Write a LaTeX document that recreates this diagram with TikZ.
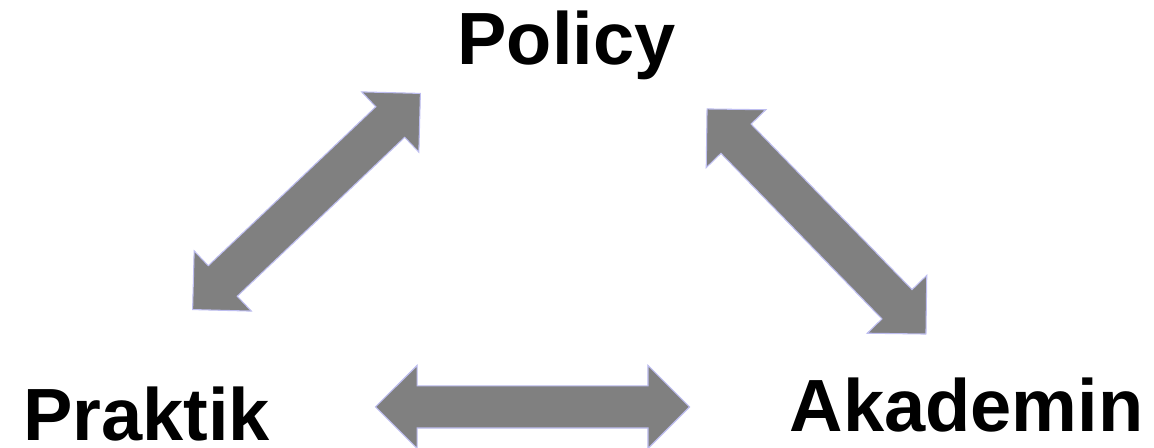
\documentclass[tikz,border=0pt]{standalone}
\usepackage{fontspec}
\setmainfont{Liberation Sans}
\usetikzlibrary{shapes.arrows}

\definecolor{arrowfill}{RGB}{128,128,128}
\definecolor{arrowline}{RGB}{190,190,240}

\begin{document}
\begin{tikzpicture}[x=0.75pt, y=0.75pt]
    \useasboundingbox (0,0) rectangle (1154,448);
    \tikzset{Label/.style={anchor=base, inner sep=0pt, font=\fontsize{55.5}{60}\selectfont\bfseries}}
    \tikzset{Link/.style={double arrow, double arrow tip angle=90, double arrow head extend=15.375pt,
        minimum height=235.5pt, inner sep=0pt, fill=arrowfill, draw=arrowline, line width=0.8pt}}

    \node[Label] (policy)   at (566.5, 383) {Policy};
    \node[Label] (praktik)  at (146.5, 7)   {Praktik};
    \node[Label] (akademin) at (966.5, 16)  {Akademin};

    \node[Link, rotate=43.5]  (praktikpolicy)   at (306.5, 246.5) {\rule{0pt}{30.75pt}};
    \node[Link, rotate=-45.8] (policyakademin)  at (816.5, 226.5) {\rule{0pt}{30.75pt}};
    \node[Link]               (praktikakademin) at (532.5, 41)    {\rule{0pt}{30.75pt}};
\end{tikzpicture}
\end{document}
